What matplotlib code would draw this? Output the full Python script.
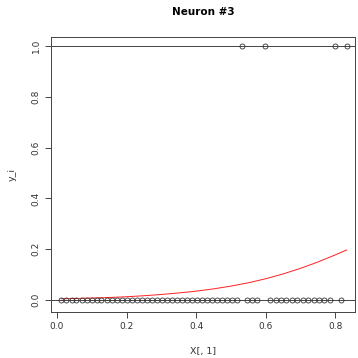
import matplotlib
matplotlib.use("Agg")
import matplotlib.pyplot as plt

# Observations with y = 0
x_zero = [0.013, 0.027, 0.042, 0.056, 0.071, 0.085, 0.100, 0.114, 0.128, 0.143,
          0.157, 0.172, 0.186, 0.200, 0.215, 0.229, 0.244, 0.258, 0.273, 0.287,
          0.301, 0.316, 0.330, 0.345, 0.359, 0.374, 0.388, 0.402, 0.417, 0.431,
          0.446, 0.460, 0.474, 0.489, 0.503, 0.518,
          0.546, 0.561, 0.576,
          0.613, 0.628, 0.644, 0.659, 0.675, 0.690, 0.706, 0.721, 0.737, 0.752,
          0.768, 0.783,
          0.816]
y_zero = [0.0] * len(x_zero)

# Observations with y = 1
x_one = [0.532, 0.599, 0.799, 0.832]
y_one = [1.0] * len(x_one)

# Fitted neuron output (red curve)
curve_x = [0.013, 0.05, 0.10, 0.15, 0.20, 0.25, 0.30, 0.35, 0.40, 0.45,
           0.50, 0.55, 0.60, 0.65, 0.70, 0.75, 0.80, 0.832]
curve_y = [0.005, 0.006, 0.008, 0.010, 0.013, 0.017, 0.022, 0.028, 0.035, 0.044,
           0.055, 0.068, 0.084, 0.103, 0.125, 0.150, 0.178, 0.197]

xticks = [0.0, 0.2, 0.4, 0.6, 0.8]
xtick_labels = ["0.0", "0.2", "0.4", "0.6", "0.8"]
yticks = [0.0, 0.2, 0.4, 0.6, 0.8, 1.0]
ytick_labels = ["0.0", "0.2", "0.4", "0.6", "0.8", "1.0"]

fig = plt.figure(figsize=(3.58, 3.58), dpi=100)
ax = fig.add_axes([0.1425, 0.1285, 0.85, 0.768])

ax.axhline(0, color="#444444", lw=0.7, zorder=1)
ax.axhline(1, color="#444444", lw=0.7, zorder=1)
ax.plot(x_zero, y_zero, linestyle="none", marker="o", markersize=3.6,
        markerfacecolor="none", markeredgecolor="#333333", markeredgewidth=0.6, zorder=3)
ax.plot(x_one, y_one, linestyle="none", marker="o", markersize=3.6,
        markerfacecolor="none", markeredgecolor="#333333", markeredgewidth=0.6, zorder=3)
ax.plot(curve_x, curve_y, color="#ff2020", lw=0.7, zorder=2)

ax.set_xlim(-0.017, 0.857)
ax.set_ylim(-0.047, 1.035)

ax.set_xticks(xticks)
ax.set_xticklabels(xtick_labels)
ax.set_yticks(yticks)
ax.set_yticklabels(ytick_labels, rotation=90, va="center")
ax.tick_params(axis="both", direction="out", length=4.5, width=0.7, color="#444444",
               labelsize=6.5, labelcolor="#333333", pad=3)
for s in ax.spines.values():
    s.set_linewidth(0.7)
    s.set_color("#444444")

ax.set_xlabel("X[, 1]", fontsize=6.8, color="#333333", labelpad=11)
ax.set_ylabel("y_i", fontsize=6.8, color="#333333", labelpad=11)
ax.set_title("Neuron #3", fontsize=7.5, fontweight="bold", pad=16)

fig.savefig("out.png", dpi=100)
